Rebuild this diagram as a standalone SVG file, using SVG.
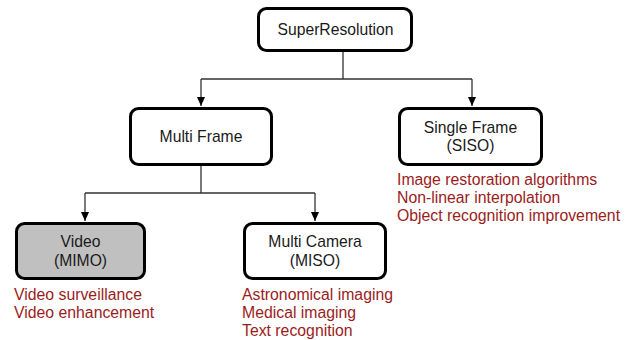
<svg xmlns="http://www.w3.org/2000/svg" width="630" height="340" viewBox="0 0 630 340">
<style>
.box{fill:#fff;stroke:#000;stroke-width:3;}
.t{font-family:"Liberation Sans",Arial,sans-serif;font-size:15.7px;fill:#1a1a1a;text-anchor:middle;}
.r{font-family:"Liberation Sans",Arial,sans-serif;font-size:15.8px;fill:#9b1c1c;}
.c{fill:none;stroke:#333;stroke-width:1.3;}
</style>
<defs>
<marker id="ah" markerWidth="10" markerHeight="10" refX="9" refY="5" orient="auto" markerUnits="userSpaceOnUse">
<path d="M0,1 L9,5 L0,9 Z" fill="#000"/>
</marker>
</defs>
<rect width="630" height="340" fill="#fff"/>
<g id="connectors">
<path class="c" d="M343,52 V79 M201,79 H472"/>
<path class="c" d="M201,79 V106" marker-end="url(#ah)"/>
<path class="c" d="M472,79 V106" marker-end="url(#ah)"/>
<path class="c" d="M201,166 V193 M85,193 H315"/>
<path class="c" d="M85,193 V221" marker-end="url(#ah)"/>
<path class="c" d="M315,193 V221" marker-end="url(#ah)"/>
</g>
<g id="superresolution">
<rect class="box" x="258.5" y="8.5" width="153" height="42" rx="8"/>
<text class="t" x="335.5" y="35">SuperResolution</text>
</g>
<g id="multiframe">
<rect class="box" x="130.5" y="108.5" width="141" height="56" rx="8"/>
<text class="t" x="201" y="142">Multi Frame</text>
</g>
<g id="singleframe">
<rect class="box" x="399.5" y="108.5" width="142" height="56" rx="8"/>
<text class="t" x="470.5" y="133">Single Frame</text>
<text class="t" x="470.5" y="151">(SISO)</text>
<text class="r" x="397" y="185">Image restoration algorithms</text>
<text class="r" x="397" y="203">Non-linear interpolation</text>
<text class="r" x="397" y="221">Object recognition improvement</text>
</g>
<g id="video">
<rect class="box" x="16.5" y="223.5" width="128" height="55" rx="8" style="fill:#c0c0c0"/>
<text class="t" x="80.5" y="247">Video</text>
<text class="t" x="80.5" y="266">(MIMO)</text>
<text class="r" x="14" y="300">Video surveillance</text>
<text class="r" x="14" y="318">Video enhancement</text>
</g>
<g id="multicamera">
<rect class="box" x="244.5" y="223.5" width="141" height="55" rx="8"/>
<text class="t" x="315" y="247">Multi Camera</text>
<text class="t" x="315" y="266">(MISO)</text>
<text class="r" x="242" y="300">Astronomical imaging</text>
<text class="r" x="242" y="318">Medical imaging</text>
<text class="r" x="242" y="336">Text recognition</text>
</g>
</svg>
